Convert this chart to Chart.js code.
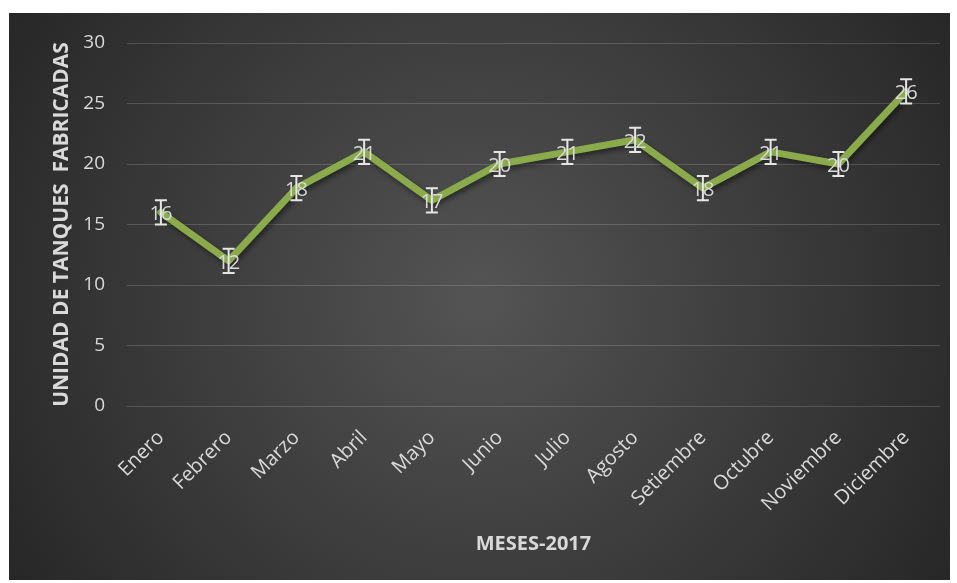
<!DOCTYPE html>
<html>
<head>
<meta charset="utf-8">
<script src="https://cdn.jsdelivr.net/npm/chart.js@4.4.1/dist/chart.umd.min.js"></script>
<style>
html,body{margin:0;padding:0;background:#fff;}
#wrap{width:957px;height:583px;position:relative;}
</style>
</head>
<body>
<div id="wrap"><canvas id="c" width="957" height="583"></canvas></div>
<script>
const categories = ["Enero","Febrero","Marzo","Abril","Mayo","Junio","Julio","Agosto","Setiembre","Octubre","Noviembre","Diciembre"];
const tanques = [16,12,18,21,17,20,21,22,18,21,20,26];
const errorAmount = [1,1,1,1,1,1,1,1,1,1,1,1];
const yTicks = [0,5,10,15,20,25,30];

const FONT = "'Open Sans', 'DejaVu Sans', sans-serif";
const TXT = '#d9d9d9';

const bgPlugin = {
  id: 'bg',
  beforeDraw(chart) {
    const ctx = chart.ctx;
    ctx.save();
    ctx.fillStyle = '#ffffff';
    ctx.fillRect(0, 0, chart.width, chart.height);
    const x0 = 9, y0 = 13, x1 = 950, y1 = 580;
    const cx = (x0 + x1) / 2, cy = (y0 + y1) / 2;
    const g = ctx.createRadialGradient(cx, cy, 0, cx, cy, 560);
    g.addColorStop(0, '#545454');
    g.addColorStop(1, '#262626');
    ctx.fillStyle = g;
    ctx.fillRect(x0, y0, x1 - x0, y1 - y0);
    ctx.restore();
  }
};

const shadowPlugin = {
  id: 'lineShadow',
  beforeDatasetDraw(chart) {
    const ctx = chart.ctx;
    ctx.save();
    ctx.shadowColor = 'rgba(0,0,0,0.45)';
    ctx.shadowBlur = 5;
    ctx.shadowOffsetX = 2;
    ctx.shadowOffsetY = 3;
  },
  afterDatasetDraw(chart) {
    chart.ctx.restore();
  }
};

const errLabelPlugin = {
  id: 'errLabels',
  afterDatasetsDraw(chart) {
    const ctx = chart.ctx;
    const ys = chart.scales.y;
    const meta = chart.getDatasetMeta(0);
    ctx.save();
    ctx.strokeStyle = '#e6e6e6';
    ctx.lineWidth = 2;
    meta.data.forEach((pt, i) => {
      const v = tanques[i];
      const e = errorAmount[i];
      const x = pt.x;
      const yt = ys.getPixelForValue(v + e);
      const yb = ys.getPixelForValue(v - e);
      ctx.beginPath();
      ctx.moveTo(x, yt); ctx.lineTo(x, yb);
      ctx.moveTo(x - 6, yt); ctx.lineTo(x + 6, yt);
      ctx.moveTo(x - 6, yb); ctx.lineTo(x + 6, yb);
      ctx.stroke();
    });
    ctx.fillStyle = TXT;
    ctx.font = '20px ' + FONT;
    ctx.textAlign = 'center';
    ctx.textBaseline = 'middle';
    meta.data.forEach((pt, i) => {
      ctx.fillText(String(tanques[i]), pt.x, pt.y + 2);
    });
    ctx.restore();
  }
};

new Chart(document.getElementById('c'), {
  type: 'line',
  data: {
    labels: categories,
    datasets: [{
      data: tanques,
      borderColor: '#8aaa4b',
      borderWidth: 7,
      pointRadius: 0,
      pointHoverRadius: 0,
      tension: 0,
      fill: false,
      borderCapStyle: 'round',
      borderJoinStyle: 'round'
    }]
  },
  plugins: [bgPlugin, shadowPlugin, errLabelPlugin],
  options: {
    responsive: false,
    animation: false,
    events: [],
    layout: { padding: { left: 45, top: 43, right: 17, bottom: 3 } },
    plugins: { legend: { display: false }, tooltip: { enabled: false } },
    scales: {
      x: {
        offset: true,
        grid: { display: false, drawTicks: false, offset: true },
        border: { display: false },
        ticks: {
          color: TXT,
          font: { family: FONT, size: 20 },
          maxRotation: 45, minRotation: 45,
          padding: 20,
          autoSkip: false
        },
        title: {
          display: true,
          text: 'MESES-2017',
          color: TXT,
          font: { family: FONT, size: 20, weight: 'bold' },
          padding: { top: 4, bottom: 24 }
        },
        afterFit(s) { s.height = 174; }
      },
      y: {
        min: 0, max: 30,
        afterBuildTicks(s) { s.ticks = yTicks.map(v => ({ value: v })); },
        grid: { color: 'rgba(255,255,255,0.16)', lineWidth: 1, drawTicks: false },
        border: { display: false },
        ticks: {
          color: TXT,
          font: { family: FONT, size: 19 },
          padding: 22
        },
        title: {
          display: true,
          text: 'UNIDAD DE TANQUES  FABRICADAS',
          color: TXT,
          font: { family: FONT, size: 21, weight: 'bold' },
          padding: { top: 4, bottom: 4 }
        },
        afterFit(s) { s.width = 82; }
      }
    }
  }
});
</script>
</body>
</html>
